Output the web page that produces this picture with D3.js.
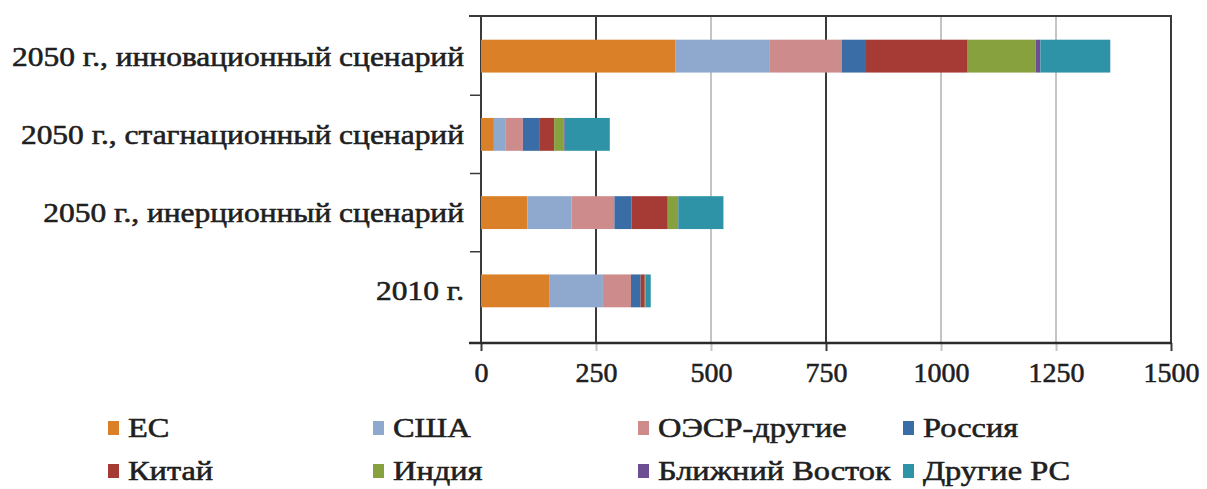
<!DOCTYPE html>
<html>
<head>
<meta charset="utf-8">
<script src="https://cdn.jsdelivr.net/npm/d3@7/dist/d3.min.js"></script>
<style>
  html, body { margin: 0; padding: 0; background: #fff; }
  svg { display: block; }
</style>
</head>
<body>
<svg id="chart" width="1207" height="489"></svg>
<script>
// Scenario rows (top to bottom)
const categories = [
  "2050 г., инновационный сценарий",
  "2050 г., стагнационный сценарий",
  "2050 г., инерционный сценарий",
  "2010 г."
];
// Regions, in stacking order
const seriesNames = ["ЕС", "США", "ОЭСР-другие", "Россия", "Китай", "Индия", "Ближний Восток", "Другие РС"];
const seriesColors = ["#D98029", "#8EA8CE", "#CE8B8B", "#3A6CA6", "#A63A35", "#87A13F", "#6D4E93", "#2F93A8"];
// Values per region, one entry per scenario row
const valEU      = [422, 28, 101, 148];
const valUSA     = [206, 26,  96, 117];
const valOECD    = [156, 37,  93,  61];
const valRussia  = [ 53, 37,  37,  21];
const valChina   = [221, 31,  79,   9];
const valIndia   = [148, 21,  21,   1];
const valMidEast = [ 10,  2,   2,   1];
const valOther   = [152, 98,  98,  11];
const xTicks = [0, 250, 500, 750, 1000, 1250, 1500];

const FONT = '"Liberation Serif"';
const INK = "#202020";

const seriesValues = [valEU, valUSA, valOECD, valRussia, valChina, valIndia, valMidEast, valOther];
const rows = categories.map((c, i) => {
  const r = { cat: c };
  seriesNames.forEach((s, j) => { r[s] = seriesValues[j][i]; });
  return r;
});
const stacked = d3.stack().keys(seriesNames)(rows);

const svg = d3.select("#chart");
const plotLeft = 481, plotRight = 1171, plotTop = 16, axisY = 343;

const x = d3.scaleLinear().domain([0, 1500]).range([plotLeft, plotRight]);
const y = d3.scaleBand().domain(categories).range([17, 330]).paddingInner(0.58).paddingOuter(0.29);

// Serif text, thickened a little with a thin stroke
function styleText(sel, size) {
  return sel.style("font-family", FONT).style("font-size", size + "px")
    .attr("fill", INK).attr("stroke", INK).attr("stroke-width", 0.55);
}

// Grid lines (some drawn darker)
const darkLines = new Set([0, 250, 750, 1500]);
svg.append("g").selectAll("line").data(xTicks).join("line")
  .attr("x1", d => x(d)).attr("x2", d => x(d))
  .attr("y1", plotTop).attr("y2", axisY)
  .attr("stroke", d => darkLines.has(d) ? "#3a3a3a" : "#c4c4c4")
  .attr("stroke-width", 2);

// Top border line
svg.append("line").attr("x1", 469).attr("x2", plotRight + 1).attr("y1", plotTop).attr("y2", plotTop)
  .attr("stroke", "#3a3a3a").attr("stroke-width", 2);

// Stacked bars
svg.append("g").selectAll("g").data(stacked).join("g")
  .attr("fill", (d, i) => seriesColors[i])
  .selectAll("rect").data(d => d).join("rect")
  .attr("x", d => x(d[0]))
  .attr("width", d => Math.max(0, x(d[1]) - x(d[0])))
  .attr("y", d => y(d.data.cat))
  .attr("height", y.bandwidth());

// Bottom axis
const xAxis = d3.axisBottom(x).tickValues(xTicks).tickFormat(d3.format("d"))
  .tickSize(8).tickSizeOuter(0).tickPadding(6);
const gx = svg.append("g").attr("transform", `translate(0,${axisY})`).call(xAxis);
gx.select(".domain").remove();
gx.selectAll(".tick line").attr("stroke", d => darkLines.has(d) && d !== 250 ? "#3a3a3a" : "#c4c4c4").attr("stroke-width", 2);
styleText(gx.selectAll(".tick text"), 28).attr("dy", "0.9em");
gx.append("line").attr("x1", 469).attr("x2", plotRight + 1).attr("y1", 0).attr("y2", 0)
  .attr("stroke", "#2a2a2a").attr("stroke-width", 2.5);

// Left axis: category labels and small ticks between rows
const step = y.step();
const boundaries = categories.slice(0, -1).map(c => y(c) + y.bandwidth() + (step - y.bandwidth()) / 2);
svg.append("g").selectAll("line").data(boundaries).join("line")
  .attr("x1", 470).attr("x2", plotLeft).attr("y1", d => d).attr("y2", d => d)
  .attr("stroke", "#3a3a3a").attr("stroke-width", 1.5);
const catLabels = svg.append("g").selectAll("text").data(categories).join("text")
  .attr("transform", d => `translate(464,${y(d) + y.bandwidth() / 2}) scale(1.165,1)`)
  .attr("dy", "0.35em")
  .attr("text-anchor", "end")
  .text(d => d);
styleText(catLabels, 27);

// Legend: two rows of four
const legend = svg.append("g").selectAll("g").data(seriesNames).join("g")
  .attr("transform", (d, i) => `translate(${108 + (i % 4) * 265},${428 + Math.floor(i / 4) * 43})`);
legend.append("rect").attr("x", 0).attr("y", -7).attr("width", 11).attr("height", 14)
  .attr("fill", (d, i) => seriesColors[i]);
const legendText = legend.append("text")
  .attr("transform", "translate(20,0) scale(1.2,1)")
  .attr("dy", "0.35em")
  .text(d => d);
styleText(legendText, 27);
</script>
</body>
</html>
